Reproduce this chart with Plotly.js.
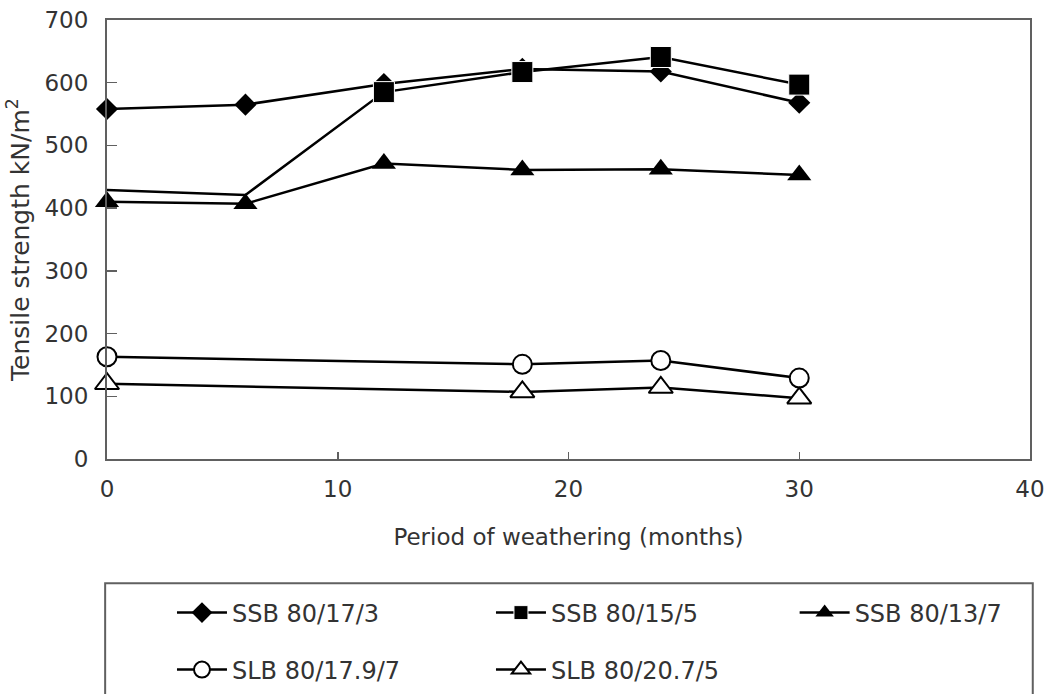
<!DOCTYPE html>
<html>
<head>
<meta charset="utf-8">
<script src="https://cdn.plot.ly/plotly-3.0.1.min.js"></script>
<style>
  html, body { margin: 0; padding: 0; background: #ffffff; }
  #chart { width: 1049px; height: 694px; }
</style>
</head>
<body>
<div id="chart"></div>
<script>
// Weathering periods (months)
const monthsAll = [0, 6, 12, 18, 24, 30];
const monthsSLB = [0, 18, 24, 30];

// Tensile strength, kN/m2
const ssb80_17_3 = [558, 565, 598, 622, 618, 568];
const ssb80_15_5 = [429, 421, 585, 617, 641, 597];
const ssb80_13_7 = [410, 407, 471, 461, 462, 453];
const slb80_17_9_7 = [163, 151, 157, 129];
const slb80_20_7_5 = [120, 107, 114, 97];

// SSB 80/15/5 has no marker drawn at the first two readings
const ssb80_15_5_markerSize = [0, 0, 21, 21, 21, 21];

const seriesNames = ['SSB 80/17/3', 'SSB 80/15/5', 'SSB 80/13/7', 'SLB 80/17.9/7', 'SLB 80/20.7/5'];

const FONT = 'DejaVu Sans, Verdana, sans-serif';
const TEXT = '#333333';
const AXIS = '#606060';

const lineStyle = { color: '#000000', width: 2.5 };

// Each key entry sits in its own legend so the grid of 3 + 2 entries can be placed freely
const traces = [
  {
    x: monthsAll, y: ssb80_17_3, name: seriesNames[0], mode: 'lines+markers',
    line: lineStyle, cliponaxis: false, legend: 'legend',
    marker: { symbol: 'diamond', size: 17, color: '#000000', opacity: 1 }
  },
  {
    x: monthsAll, y: ssb80_15_5, name: seriesNames[1], mode: 'lines+markers',
    line: lineStyle, cliponaxis: false, legend: 'legend2',
    marker: { symbol: 'square', size: ssb80_15_5_markerSize, color: '#000000', opacity: 1 }
  },
  {
    x: monthsAll, y: ssb80_13_7, name: seriesNames[2], mode: 'lines+markers',
    line: lineStyle, cliponaxis: false, legend: 'legend3',
    marker: { symbol: 'triangle-up', size: 21, color: '#000000', opacity: 1 }
  },
  {
    x: monthsSLB, y: slb80_17_9_7, name: seriesNames[3], mode: 'lines+markers',
    line: lineStyle, cliponaxis: false, legend: 'legend4',
    marker: { symbol: 'circle', size: 19, color: '#ffffff', opacity: 1, line: { color: '#000000', width: 2 } }
  },
  {
    x: monthsSLB, y: slb80_20_7_5, name: seriesNames[4], mode: 'lines+markers',
    line: lineStyle, cliponaxis: false, legend: 'legend5',
    marker: { symbol: 'triangle-up', size: 21, color: '#ffffff', opacity: 1, line: { color: '#000000', width: 2 } }
  }
];

// key rows are placed against the whole figure so they never squeeze the plot area
const legendCommon = {
  orientation: 'v',
  xref: 'paper',
  yref: 'container',
  xanchor: 'left',
  yanchor: 'middle',
  bgcolor: 'rgba(0,0,0,0)',
  borderwidth: 0,
  font: { family: FONT, size: 24, color: TEXT },
  itemwidth: 50
};
const ROW1 = 0.1167;
const ROW2 = 0.0346;
const COL1 = 0.0704;
const COL2 = 0.416;
const COL3 = 0.745;

const layout = {
  width: 1049,
  height: 694,
  paper_bgcolor: '#ffffff',
  plot_bgcolor: '#ffffff',
  margin: { l: 107, r: 19, t: 20, b: 235 },
  showlegend: true,
  font: { family: FONT, color: TEXT },
  xaxis: {
    range: [0, 40],
    tickvals: [0, 10, 20, 30, 40],
    ticks: 'inside', ticklen: 7, tickwidth: 1.5, tickcolor: AXIS,
    showline: true, linecolor: AXIS, linewidth: 2, mirror: true,
    showgrid: false, zeroline: false,
    tickfont: { family: FONT, size: 23, color: TEXT },
    ticklabelstandoff: 8,
    title: { text: 'Period of weathering (months)', font: { family: FONT, size: 23, color: TEXT }, standoff: 28 },
    automargin: false, fixedrange: true
  },
  yaxis: {
    range: [0, 700],
    tickvals: [0, 100, 200, 300, 400, 500, 600, 700],
    ticks: 'inside', ticklen: 10, tickwidth: 1.5, tickcolor: AXIS,
    showline: true, linecolor: AXIS, linewidth: 2, mirror: true,
    showgrid: false, zeroline: false,
    tickfont: { family: FONT, size: 23, color: TEXT },
    ticklabelstandoff: 12,
    title: { text: 'Tensile strength kN/m<sup>2</sup>', font: { family: FONT, size: 25, color: TEXT }, standoff: 8 },
    automargin: false, fixedrange: true
  },
  legend: Object.assign({}, legendCommon, { x: COL1, y: ROW1 }),
  legend2: Object.assign({}, legendCommon, { x: COL2, y: ROW1 }),
  legend3: Object.assign({}, legendCommon, { x: COL3, y: ROW1 }),
  legend4: Object.assign({}, legendCommon, { x: COL1, y: ROW2 }),
  legend5: Object.assign({}, legendCommon, { x: COL2, y: ROW2 }),
  shapes: [
    {
      type: 'rect', xref: 'paper', yref: 'paper',
      x0: -0.002, x1: 1.003, y0: -0.283, y1: -0.62,
      line: { color: AXIS, width: 2 }, fillcolor: 'rgba(0,0,0,0)', layer: 'below'
    }
  ]
};

Plotly.newPlot('chart', traces, layout, { displayModeBar: false, staticPlot: true });
</script>
</body>
</html>
